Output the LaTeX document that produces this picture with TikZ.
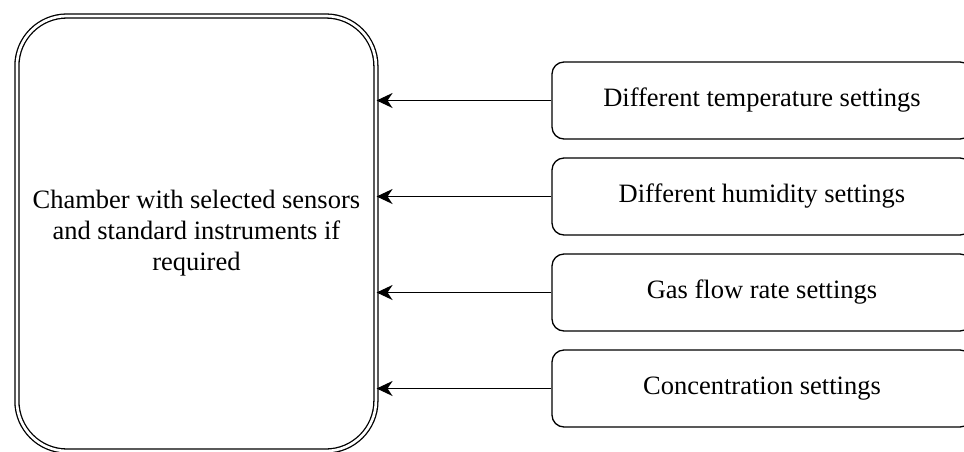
\documentclass[tikz,border=0pt]{standalone}
\usepackage{fontspec}
\setmainfont{Liberation Serif}
\usetikzlibrary{arrows.meta}

\begin{document}
\begin{tikzpicture}[x=1pt,y=-1pt,
    chamber/.style={draw,double,line width=1.3pt,double distance=2.7pt,
      rounded corners=50pt,minimum width=359pt,minimum height=435pt,
      align=center,inner sep=0pt,font=\fontsize{26.5}{31}\selectfont},
    setting/.style={draw,line width=1.3pt,rounded corners=12pt,
      minimum width=420pt,minimum height=77pt,inner sep=0pt,
      font=\fontsize{26.5}{31}\selectfont},
    feed/.style={line width=1.3pt,-{Stealth[length=16pt,width=15pt,inset=5pt]}}]
    \clip (0,0) rectangle (964,451);
    \node[chamber] (C) at (196.4,233.5) {Chamber with selected sensors\\ and standard instruments if\\ required};
    \node[setting] (T) at (762,100.5) {Different temperature settings};
    \node[setting] (H) at (762,196.5) {Different humidity settings};
    \node[setting] (G) at (762,292.5) {Gas flow rate settings};
    \node[setting] (K) at (762,388.5) {Concentration settings};
    \draw[feed] (T.west) -- (T.west -| C.east);
    \draw[feed] (H.west) -- (H.west -| C.east);
    \draw[feed] (G.west) -- (G.west -| C.east);
    \draw[feed] (K.west) -- (K.west -| C.east);
  \end{tikzpicture}
\end{document}
